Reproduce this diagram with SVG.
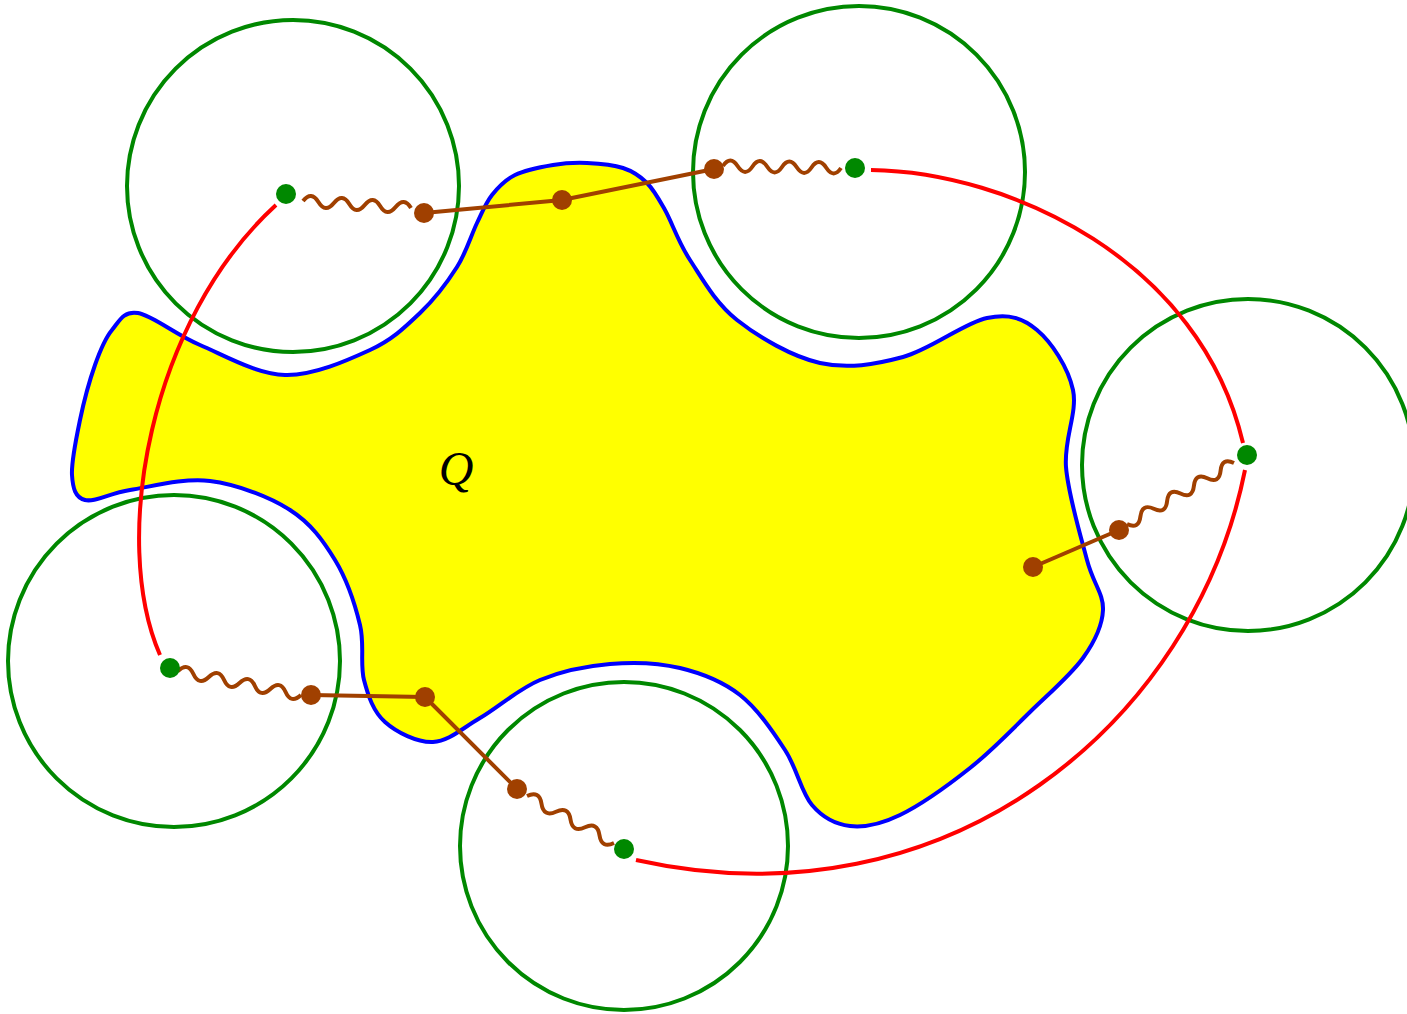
<svg xmlns="http://www.w3.org/2000/svg" width="1407" height="1014" viewBox="0 0 1407 1014">
<style>
.blob{fill:#ffff00;stroke:#0000ff;stroke-width:4;stroke-linejoin:round}
.ball{fill:none;stroke:#008800;stroke-width:4}
.gdot{fill:#008800}
.bdot{fill:#a04000}
.red{fill:none;stroke:#ff0000;stroke-width:4}
.brn{fill:none;stroke:#a04000;stroke-width:4;stroke-linejoin:round}
.lbl{font-family:"Liberation Serif","DejaVu Serif",serif;font-style:italic;font-size:48px;fill:#000}
</style>
<rect width="1407" height="1014" fill="#ffffff"/>
<g id="region-Q">
<path class="blob" d="M138,313 C152.7,315.5 175.5,334.7 200,345 C224.5,355.3 256.7,374.2 285,375 C313.3,375.8 347.5,360.3 370,350 C392.5,339.7 405.5,326.8 420,313 C434.5,299.2 447.5,282 457,267 C466.5,252 471.2,235 477,223 C482.8,211 485.7,203 492,195 C498.3,187 504.8,180 515,175 C525.2,170 541,167 553,165 C565,163 575.3,162.5 587,163 C598.7,163.5 613,164.7 623,168 C633,171.3 640,176 647,183 C654,190 657.8,197.2 665,210 C672.2,222.8 678,241.7 690,260 C702,278.3 715.3,302.8 737,320 C758.7,337.2 792.3,356.8 820,363 C847.7,369.2 875.2,364.5 903,357 C930.8,349.5 964.7,322.5 987,318 C1009.3,313.5 1022.7,318 1037,330 C1051.3,342 1068.2,367.2 1073,390 C1077.8,412.8 1063.7,438.7 1066,467 C1068.3,495.3 1080.8,536.2 1087,560 C1093.2,583.8 1103.7,593.7 1103,610 C1102.3,626.3 1095.2,641 1083,658 C1070.8,675 1048.8,693.7 1030,712 C1011.2,730.3 991.7,750.8 970,768 C948.3,785.2 920,805.3 900,815 C880,824.7 864.7,827.7 850,826 C835.3,824.3 822.8,817.7 812,805 C801.2,792.3 797,768.3 785,750 C773,731.7 757.5,708.7 740,695 C722.5,681.3 701.7,673.2 680,668 C658.3,662.8 633.3,662 610,664 C586.7,666 561.7,671 540,680 C518.3,689 497.8,707.7 480,718 C462.2,728.3 448.8,741.3 433,742 C417.2,742.7 396.5,732.3 385,722 C373.5,711.7 368.2,696.2 364,680 C359.8,663.8 364.8,645 360,625 C355.2,605 346.7,579.2 335,560 C323.3,540.8 310.8,523.2 290,510 C269.2,496.8 236.7,484.3 210,481 C183.3,477.7 150.8,486.8 130,490 C109.2,493.2 94.7,502.5 85,500 C75.3,497.5 72.8,488.3 72,475 C71.2,461.7 76.2,438.3 80,420 C83.8,401.7 89.7,380 95,365 C100.3,350 104.8,338.7 112,330 C119.2,321.3 123.3,310.5 138,313 Z"/>
<text class="lbl" x="456" y="485" text-anchor="middle">Q</text>
</g>
<g id="ball-1"><circle class="ball" cx="293" cy="186" r="166"/></g>
<g id="ball-2"><circle class="ball" cx="859" cy="172" r="166"/></g>
<g id="ball-3"><circle class="ball" cx="1248" cy="465" r="166"/></g>
<g id="ball-4"><circle class="ball" cx="174" cy="661" r="166"/></g>
<g id="ball-5"><circle class="ball" cx="624" cy="846" r="164"/></g>
<g id="connectors">
<path class="red" d="M276,205 C150,320 110,540 160,655"/>
<path class="red" d="M871,170 C1010,172 1200,260 1243,443"/>
<path class="red" d="M1245,470 C1195,720 950,930 636,860"/>
<path class="brn" d="M424,213 L562,200 L714,169"/>
<path class="brn" d="M1033,567 L1119,530"/>
<path class="brn" d="M311,695 L425,697 L517,789"/>
<path class="brn" d="M303,201 Q311.4,190.5 318.4,202 T333.9,203 T349.3,204 T364.7,205 T380.1,206 T395.6,207 T411,208"/>
<path class="brn" d="M723,166 Q730.4,155.1 737.75,166.25 T752.5,166.5 T767.25,166.75 T782,167 T796.75,167.25 T811.5,167.5 T826.25,167.75 T841,168"/>
<path class="brn" d="M1234,463 Q1221.9,457.2 1220.6,470.6 T1207.3,478.3 T1193.9,485.9 T1180.5,493.5 T1167.1,501.1 T1153.8,508.8 T1140.4,516.4 T1127,524"/>
<path class="brn" d="M178,671 Q187.8,661.7 193.4,674 T208.8,677 T224.1,680 T239.5,683 T254.9,686 T270.3,689 T285.6,692 T301,695"/>
<path class="brn" d="M527,796 Q539.5,790.2 541.5,803.8 T556,811.7 T570.5,819.5 T585,827.3 T599.5,835.2 T614,843"/>
</g>
<g id="points-green">
<circle class="gdot" cx="286" cy="194" r="10"/>
<circle class="gdot" cx="855" cy="168" r="10"/>
<circle class="gdot" cx="1247" cy="455" r="10"/>
<circle class="gdot" cx="170" cy="668" r="10"/>
<circle class="gdot" cx="624" cy="849" r="10"/>
</g>
<g id="points-brown">
<circle class="bdot" cx="424" cy="213" r="10"/>
<circle class="bdot" cx="562" cy="200" r="10"/>
<circle class="bdot" cx="714" cy="169" r="10"/>
<circle class="bdot" cx="1033" cy="567" r="10"/>
<circle class="bdot" cx="1119" cy="530" r="10"/>
<circle class="bdot" cx="311" cy="695" r="10"/>
<circle class="bdot" cx="425" cy="697" r="10"/>
<circle class="bdot" cx="517" cy="789" r="10"/>
</g>
</svg>
